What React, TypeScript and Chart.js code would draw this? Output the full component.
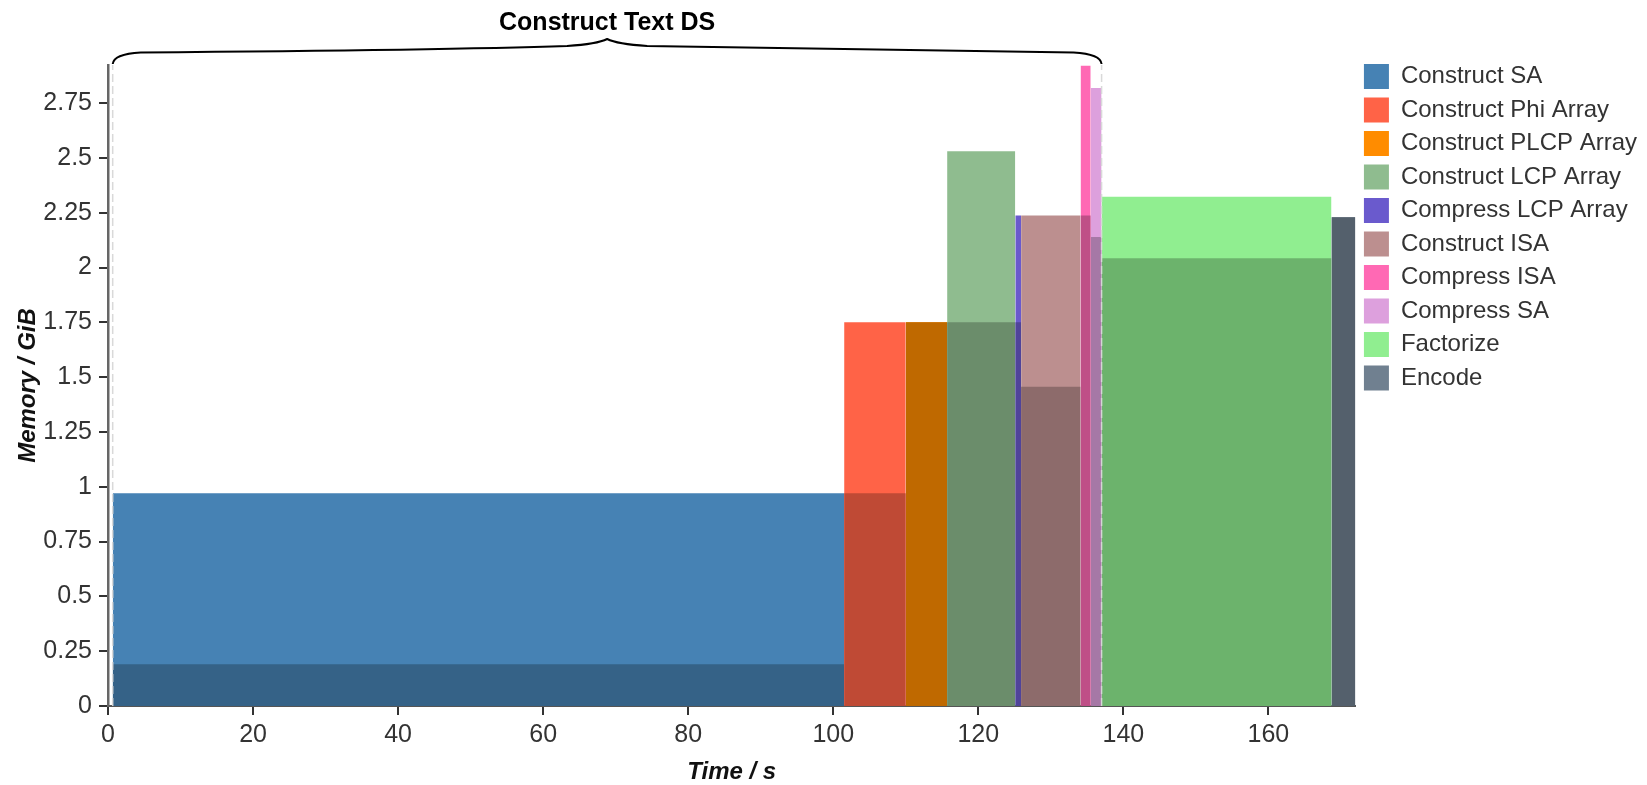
import { useEffect, useRef } from "react";
import { Chart, registerables } from "chart.js";

Chart.register(...registerables);

const FONT = "'Liberation Sans', Arial, Helvetica, sans-serif";

// ---- data ----
const phases = [
  "Construct SA",
  "Construct Phi Array",
  "Construct PLCP Array",
  "Construct LCP Array",
  "Compress LCP Array",
  "Construct ISA",
  "Compress ISA",
  "Compress SA",
  "Factorize",
  "Encode",
];
const phaseStart = [0.65, 101.5, 110.0, 115.7, 125.1, 125.9, 134.1, 135.5, 137.0, 168.7];
const phaseEnd = [101.5, 110.0, 115.7, 125.1, 125.9, 134.1, 135.5, 137.0, 168.7, 172.0];
const peakMemory = [0.971, 1.751, 1.751, 2.531, 2.238, 2.238, 2.921, 2.819, 2.323, 2.23];
const baseMemory = [0.19, 0.971, 1.751, 1.751, 1.751, 1.456, 2.238, 2.139, 2.042, 2.23];
const phaseColors = [
  "#4682B4",
  "#FF6347",
  "#FF8C00",
  "#8FBC8F",
  "#6A5ACD",
  "#BC8F8F",
  "#FF69B4",
  "#DDA0DD",
  "#90EE90",
  "#708090",
];
const xTicks = [0, 20, 40, 60, 80, 100, 120, 140, 160];
const yTicks = [0, 0.25, 0.5, 0.75, 1, 1.25, 1.5, 1.75, 2, 2.25, 2.5, 2.75];
const groupLabel = "Construct Text DS";
const groupStart = 0.65;
const groupEnd = 137.0;
const xMax = 172.0;
const yMax = 2.924;

function darken(hex: string, f: number) {
  const n = parseInt(hex.slice(1), 16);
  const r = Math.round(((n >> 16) & 255) * f);
  const g = Math.round(((n >> 8) & 255) * f);
  const b = Math.round((n & 255) * f);
  return `rgb(${r},${g},${b})`;
}

const legendShift = {
  id: "legendShift",
  afterLayout(chart: any) {
    const l = chart.legend;
    if (l) {
      l.top -= 9.5;
      l.bottom -= 9.5;
    }
  },
};

const braceTitle = {
  id: "braceTitle",
  afterDraw(chart: any) {
    const { ctx, chartArea, scales } = chart;
    const top = chartArea.top;
    const x0 = scales.x.getPixelForValue(groupStart);
    const x1 = scales.x.getPixelForValue(groupEnd);
    const mid = (x0 + x1) / 2;
    ctx.save();
    ctx.strokeStyle = "#000";
    ctx.lineWidth = 2;
    ctx.lineJoin = "round";
    ctx.beginPath();
    ctx.moveTo(x0, top - 1);
    ctx.quadraticCurveTo(x0 + 1, top - 11, x0 + 28, top - 12.5);
    ctx.quadraticCurveTo(mid - 160, top - 15, mid - 40, top - 19);
    ctx.quadraticCurveTo(mid - 10, top - 21, mid, top - 26);
    ctx.quadraticCurveTo(mid + 10, top - 21, mid + 40, top - 19);
    ctx.quadraticCurveTo(x1 - 160, top - 15, x1 - 28, top - 12.5);
    ctx.quadraticCurveTo(x1 - 1, top - 11, x1, top - 1);
    ctx.stroke();
    ctx.font = `bold 25px ${FONT}`;
    ctx.fillStyle = "#000";
    ctx.textAlign = "center";
    ctx.textBaseline = "middle";
    ctx.fillText(groupLabel, mid, top - 42);
    ctx.restore();
  },
};

export default function App() {
  const ref = useRef<HTMLCanvasElement | null>(null);

  useEffect(() => {
    document.body.style.margin = "0";
    if (!ref.current) return;
    Chart.defaults.font.family = FONT;

    const datasets: any[] = [];
    phases.forEach((name, i) => {
      datasets.push({
        label: name,
        data: [
          { x: phaseStart[i], y: peakMemory[i] },
          { x: phaseEnd[i], y: peakMemory[i] },
        ],
        backgroundColor: phaseColors[i],
        borderColor: phaseColors[i],
        borderWidth: 0,
        fill: "origin",
        pointRadius: 0,
        order: 2,
      });
    });
    phases.forEach((name, i) => {
      datasets.push({
        label: name + " base",
        data: [
          { x: phaseStart[i], y: baseMemory[i] },
          { x: phaseEnd[i], y: baseMemory[i] },
        ],
        backgroundColor: darken(phaseColors[i], 0.75),
        borderColor: darken(phaseColors[i], 0.75),
        borderWidth: 0,
        fill: "origin",
        pointRadius: 0,
        order: 1,
      });
    });
    [groupStart, groupEnd].forEach((gx) => {
      datasets.push({
        label: "range",
        data: [
          { x: gx, y: 0 },
          { x: gx, y: yMax },
        ],
        borderColor: "rgba(215,215,215,0.95)",
        borderWidth: 1.5,
        borderDash: [8, 4],
        fill: false,
        pointRadius: 0,
        order: 0,
      });
    });

    const chart = new Chart(ref.current, {
      type: "line",
      data: { datasets },
      plugins: [legendShift, braceTitle],
      options: {
        animation: false,
        responsive: false,
        devicePixelRatio: 1,
        events: [],
        layout: { padding: { top: 65, left: 0, right: 0, bottom: 0 } },
        plugins: {
          legend: {
            position: "right",
            align: "start",
            labels: {
              boxWidth: 25,
              boxHeight: 25,
              padding: 8.5,
              color: "#333",
              font: { size: 24, family: FONT },
              filter: (item: any) => item.datasetIndex < phases.length,
            },
          },
          tooltip: { enabled: false },
        },
        scales: {
          x: {
            type: "linear",
            min: 0,
            max: xMax,
            afterBuildTicks: (s: any) => {
              s.ticks = xTicks.map((v) => ({ value: v }));
            },
            afterFit: (s: any) => {
              s.height = 79;
            },
            grid: {
              display: true,
              drawOnChartArea: false,
              drawTicks: true,
              tickLength: 9,
              color: "#333",
              lineWidth: 2,
            },
            border: { display: true, color: "#555", width: 2 },
            ticks: {
              color: "#333",
              font: { size: 25, family: FONT },
              padding: 5,
              maxRotation: 0,
              autoSkip: false,
              callback: (v: any) => String(v),
            },
            title: {
              display: true,
              text: "Time / s",
              color: "#111",
              font: { size: 24, weight: "bold", style: "italic", family: FONT },
              padding: { top: 0, bottom: -2 },
            },
          },
          y: {
            type: "linear",
            min: 0,
            max: yMax,
            afterBuildTicks: (s: any) => {
              s.ticks = yTicks.map((v) => ({ value: v }));
            },
            afterFit: (s: any) => {
              s.width = 108;
            },
            grid: {
              display: true,
              drawOnChartArea: false,
              drawTicks: true,
              tickLength: 9,
              color: "#333",
              lineWidth: 2,
            },
            border: { display: true, color: "#666", width: 2.5 },
            ticks: {
              color: "#333",
              font: { size: 25, family: FONT },
              padding: 7,
              autoSkip: false,
              callback: (v: any) => String(v),
            },
            title: {
              display: true,
              text: "Memory / GiB",
              color: "#111",
              font: { size: 24, weight: "bold", style: "italic", family: FONT },
              padding: { top: 14, bottom: 0 },
            },
          },
        },
      } as any,
    });
    return () => chart.destroy();
  }, []);

  return (
    <div style={{ width: 1647, height: 785 }}>
      <canvas ref={ref} width={1647} height={785} />
    </div>
  );
}
